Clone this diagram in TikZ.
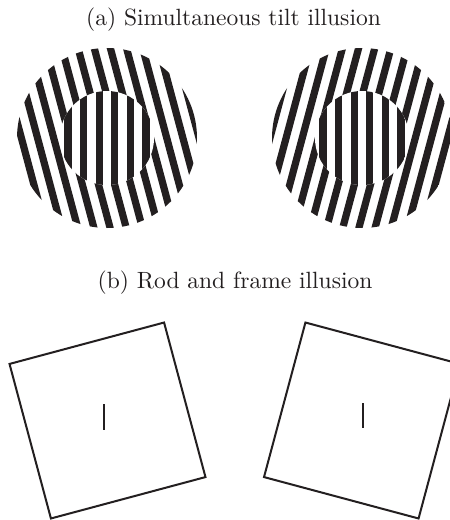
\documentclass[tikz,border=0pt]{standalone}
\usepackage{fontspec}
\newfontfamily\titlefont{lmroman10-regular.otf}
\definecolor{ink}{RGB}{35,31,32}
\newcommand\tiltdisc[1]{%
  \begin{scope}
    \clip (0,0) circle (90);
    \begin{scope}[rotate=#1]
      \foreach \k in {-8,...,7} \fill[ink] ({(\k+0.7)*15.6-3.6},-110) rectangle ++(7.2,220);
    \end{scope}
  \end{scope}
  \fill[white] (0,0) circle (47);
  \begin{scope}
    \clip (0,0) circle (47);
    \foreach \k in {-4,...,3} \fill[ink] ({(\k+0.5)*15.6-3.6},-60) rectangle ++(7.2,120);
  \end{scope}}
\begin{document}
\begin{tikzpicture}[x=1pt,y=-1pt,
  title/.style={anchor=base, text=ink, font=\titlefont\fontsize{23.5}{28}\selectfont, inner sep=0pt},
  frame/.style={draw=ink, line width=2pt, shape=rectangle, minimum size=160pt, inner sep=0pt},
  rod/.style={draw=ink, line width=1.5pt}]
\useasboundingbox (0,0) rectangle (450,520);
\clip (0,0) rectangle (450,520);
\fill[white] (0,0) rectangle (450,520);
\node[title] (titleA) at (233.5,25) {(a) Simultaneous tilt illusion};
\begin{scope}[shift={(107,138)}]
  \tiltdisc{15}
\end{scope}
\begin{scope}[shift={(362,138)},xscale=-1]
  \tiltdisc{15}
\end{scope}
\node[title] (titleB) at (235,288) {(b) Rod and frame illusion};
\node[frame, rotate=15] (frameL) at (107.5,420.5) {};
\node[frame, rotate=-15] (frameR) at (362,420.5) {};
\draw[rod] (104,404) -- (104,430);
\draw[rod] (363,403) -- (363,428);
\end{tikzpicture}
\end{document}
